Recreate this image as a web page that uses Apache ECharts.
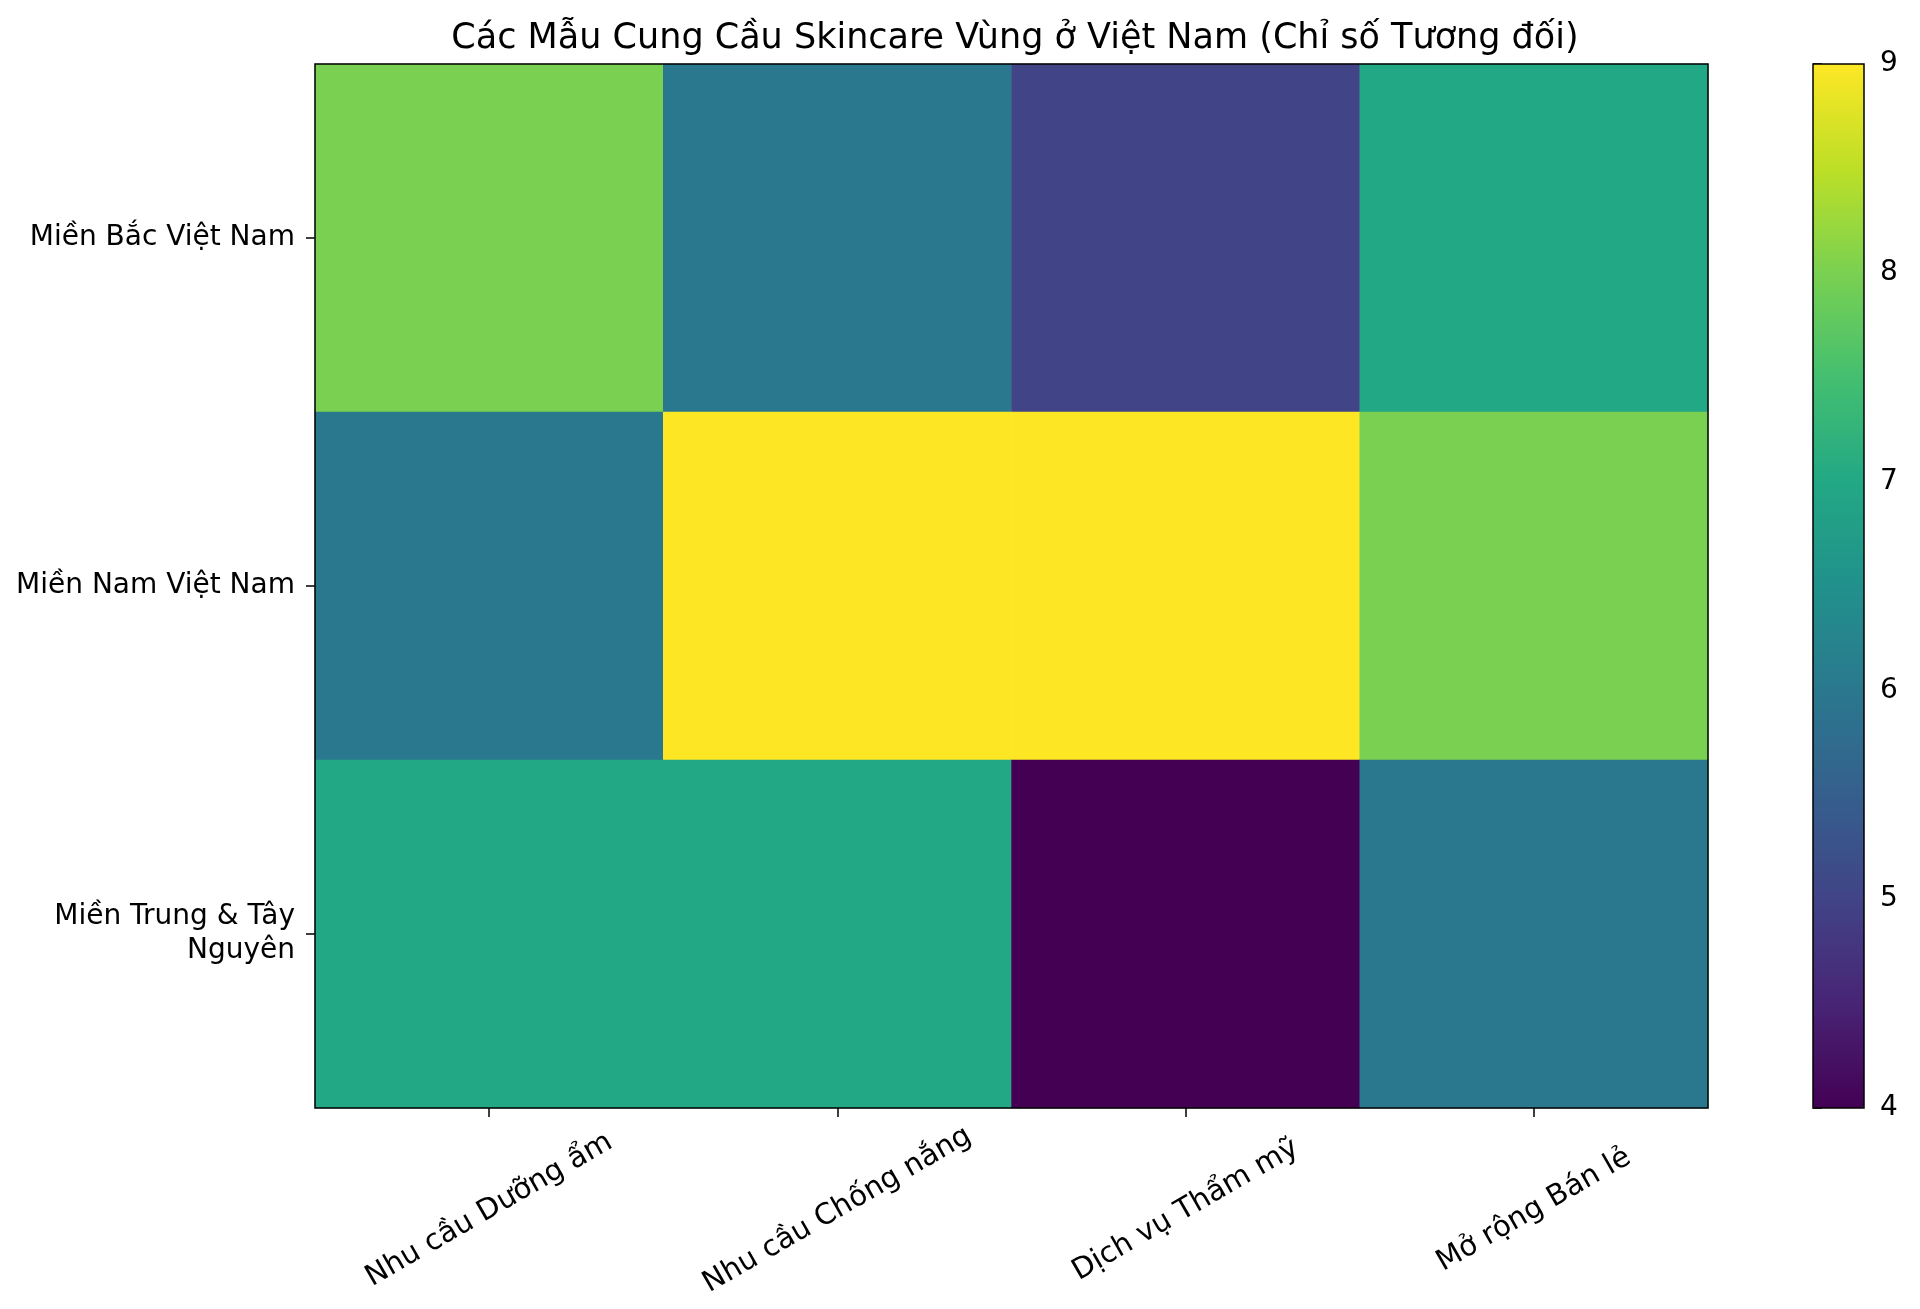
<!DOCTYPE html>
<html><head><meta charset="utf-8">
<script src="https://cdn.jsdelivr.net/npm/echarts@6/dist/echarts.min.js"></script>
<style>html,body{margin:0;padding:0;background:#fff}#c{width:1920px;height:1309px}</style>
</head><body><div id="c"></div>
<script>
const title = 'Các Mẫu Cung Cầu Skincare Vùng ở Việt Nam (Chỉ số Tương đối)';
const categories = ['Nhu cầu Dưỡng ẩm', 'Nhu cầu Chống nắng', 'Dịch vụ Thẩm mỹ', 'Mở rộng Bán lẻ'];
const regions = ['Miền Bắc Việt Nam', 'Miền Nam Việt Nam', 'Miền Trung & Tây\nNguyên'];
const northValues = [8, 6, 5, 7];
const southValues = [6, 9, 9, 8];
const centralValues = [7, 7, 4, 6];
const colorbarTicks = [4, 5, 6, 7, 8, 9];

const rows = [northValues, southValues, centralValues];
const data = [];
rows.forEach((r, yi) => r.forEach((v, xi) => data.push([xi, yi, v])));

const viridis = ['#440154','#482475','#414487','#355f8d','#2a788e','#21918c','#22a884','#44bf70','#7ad151','#bddf26','#fde725'];
const FONT = 'DejaVu Sans';
const chart = echarts.init(document.getElementById('c'), null, {renderer: 'canvas'});
chart.setOption({
  backgroundColor: '#ffffff',
  animation: false,
  textStyle: {fontFamily: FONT, color: '#000'},
  title: {text: title, left: 1010, textAlign: 'center', top: 16,
    textStyle: {fontFamily: FONT, fontSize: 35, fontWeight: 'normal', color: '#000'}},
  grid: [
    {left: 315, right: 212, top: 64, height: 1044, show: true, borderColor: '#000', borderWidth: 1.5, backgroundColor: 'transparent', z: 10},
    {left: 1813, width: 51, top: 64, height: 1044, show: true, borderColor: '#000', borderWidth: 1.5, backgroundColor: 'transparent', z: 10}
  ],
  xAxis: [
    {type: 'category', data: categories, gridIndex: 0,
      axisLine: {show: false}, splitLine: {show: false},
      axisTick: {show: true, alignWithLabel: true, length: 9, lineStyle: {color: '#000', width: 1.5}},
      axisLabel: {rotate: 30, align: 'center', verticalAlign: 'middle', margin: 102, fontSize: 29, color: '#000', fontFamily: FONT, interval: 0}},
    {type: 'value', gridIndex: 1, show: false, min: 0, max: 1}
  ],
  yAxis: [
    {type: 'category', data: regions, inverse: true, gridIndex: 0,
      axisLine: {show: false}, splitLine: {show: false},
      axisTick: {show: true, alignWithLabel: true, length: 9, lineStyle: {color: '#000', width: 1.5}},
      axisLabel: {fontSize: 28, color: '#000', fontFamily: FONT, margin: 20, align: 'right', lineHeight: 34}},
    {type: 'value', gridIndex: 1, position: 'right', min: colorbarTicks[0], max: colorbarTicks[colorbarTicks.length-1], interval: 1,
      axisLine: {show: false}, splitLine: {show: false},
      axisTick: {show: true, length: 9, lineStyle: {color: '#000', width: 1.5}},
      axisLabel: {fontSize: 28, color: '#000', fontFamily: FONT, margin: 16}}
  ],
  visualMap: {
    type: 'continuous', min: 4, max: 9, seriesIndex: 0, calculable: false, realtime: false,
    orient: 'vertical', left: 1813, top: 64, itemWidth: 51, itemHeight: 1044, padding: 0,
    text: null, showLabel: false,
    inRange: {color: viridis}
  },
  series: [
    {type: 'heatmap', data: data, xAxisIndex: 0, yAxisIndex: 0, itemStyle: {borderWidth: 0}, emphasis: {disabled: true}},
    {type: 'line', data: [], xAxisIndex: 1, yAxisIndex: 1}
  ]
});
</script></body></html>
